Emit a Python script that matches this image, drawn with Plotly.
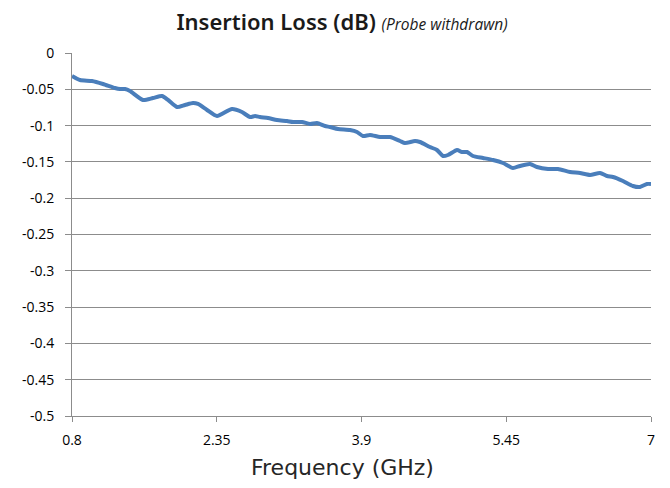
import plotly.graph_objects as go

freq_ghz = [0.80, 0.886, 1.014, 1.132, 1.260, 1.314, 1.368, 1.421, 1.560, 1.667,
            1.764, 1.828, 1.924, 2.010, 2.096, 2.149, 2.246, 2.353, 2.513, 2.620,
            2.706, 2.760, 2.813, 2.899, 2.995, 3.102, 3.166, 3.263, 3.348, 3.423,
            3.509, 3.563, 3.648, 3.777, 3.852, 3.916, 3.991, 4.098, 4.205, 4.312,
            4.366, 4.473, 4.526, 4.633, 4.708, 4.773, 4.826, 4.923, 4.976, 5.030,
            5.094, 5.201, 5.308, 5.415, 5.522, 5.597, 5.704, 5.779, 5.897, 6.004,
            6.133, 6.240, 6.347, 6.454, 6.529, 6.593, 6.700, 6.807, 6.882, 6.957, 7.000]
loss_db = [-0.0317, -0.0372, -0.0386, -0.0427, -0.0482, -0.0496, -0.0496, -0.0523, -0.0647, -0.0620,
           -0.0592, -0.0647, -0.0744, -0.0716, -0.0689, -0.0702, -0.0785, -0.0868, -0.0771, -0.0813,
           -0.0882, -0.0868, -0.0882, -0.0895, -0.0923, -0.0937, -0.0950, -0.0950, -0.0978, -0.0964,
           -0.1006, -0.1019, -0.1047, -0.1061, -0.1088, -0.1143, -0.1129, -0.1157, -0.1157, -0.1212,
           -0.1240, -0.1212, -0.1226, -0.1295, -0.1336, -0.1419, -0.1405, -0.1336, -0.1364, -0.1364,
           -0.1419, -0.1446, -0.1474, -0.1515, -0.1584, -0.1556, -0.1529, -0.1570, -0.1598, -0.1598,
           -0.1639, -0.1653, -0.1680, -0.1653, -0.1694, -0.1708, -0.1763, -0.1832, -0.1846, -0.1804, -0.1804]

x_tickvals = [0.8, 2.35, 3.9, 5.45, 7]
x_ticktext = ["0.8", "2.35", "3.9", "5.45", "7"]
y_tickvals = [0, -0.05, -0.1, -0.15, -0.2, -0.25, -0.3, -0.35, -0.4, -0.45, -0.5]
y_ticktext = ["0", "-0.05", "-0.1", "-0.15", "-0.2", "-0.25", "-0.3", "-0.35", "-0.4", "-0.45", "-0.5"]

fig = go.Figure()
fig.add_trace(go.Scatter(x=freq_ghz, y=loss_db, mode="lines",
                         line=dict(color="#4A7EBB", width=4, shape="spline", smoothing=0.6),
                         showlegend=False, hoverinfo="x+y"))

grid = "#8C8C8C"
fig.update_layout(
    width=670, height=488,
    margin=dict(l=64, r=27, t=45, b=80),
    paper_bgcolor="white", plot_bgcolor="white",
    font=dict(family="Open Sans, sans-serif", color="#000000"),
    title=dict(text="Insertion Loss (dB) <span style='font-size:15.5px;font-weight:400;font-family:Open Sans'><i>(Probe withdrawn)</i></span>",
               x=334/670, xanchor="center", y=1-14/488, yanchor="middle",
               font=dict(family="Noto Sans, sans-serif", size=22, weight=600, color="#1a1a1a")),
    xaxis=dict(range=[0.8, 7], tickvals=x_tickvals, ticktext=x_ticktext,
               showgrid=False, zeroline=False, showline=True, linecolor=grid, linewidth=1,
               ticks="outside", ticklen=5, tickcolor=grid, tickfont=dict(size=14),
               ticklabelstandoff=6, mirror=False),
    yaxis=dict(range=[-0.5, 0], tickvals=y_tickvals, ticktext=y_ticktext,
               showgrid=True, gridcolor=grid, gridwidth=1, zeroline=False,
               showline=True, linecolor=grid, linewidth=1,
               ticks="outside", ticklen=6, tickcolor=grid, tickfont=dict(size=14),
               ticklabelstandoff=8),
    annotations=[dict(text="Frequency (GHz)", xref="paper", yref="paper",
                      x=(342-72)/579, y=-51/363, xanchor="center", yanchor="middle",
                      showarrow=False, font=dict(family="DejaVu Sans, sans-serif", size=22, color="#262626"))],
)

fig.write_html("out.html")
